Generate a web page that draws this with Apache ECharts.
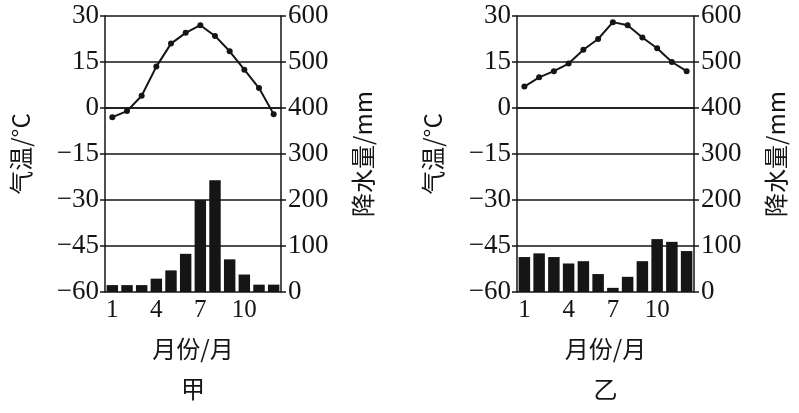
<!DOCTYPE html>
<html>
<head>
<meta charset="utf-8">
<script src="https://cdn.jsdelivr.net/npm/echarts@6/dist/echarts.min.js"></script>
<style>
html,body{margin:0;padding:0;background:#fff;}
#chart{width:799px;height:413px;}
</style>
</head>
<body>
<div id="chart"></div>
<script>
// Data
var months = ['1','2','3','4','5','6','7','8','9','10','11','12'];
var tempA = [-3, -1, 4, 13.5, 21, 24.5, 27, 23.5, 18.5, 12.5, 6.5, -2];
var precA = [15, 15, 15, 29, 47, 83, 200, 243, 71, 38, 16, 16];
var tempB = [7, 10, 12, 14.5, 19, 22.5, 28, 27, 23, 19.5, 15, 12];
var precB = [76, 84, 76, 62, 67, 39, 9, 33, 67, 115, 109, 89];
var tempTicks = {min: -60, max: 30, interval: 15};
var precTicks = {min: 0, max: 600, interval: 100};
var chartNames = ['甲', '乙'];
var xName = '月份/月', tName = '气温/°C', pName = '降水量/mm';

var INK = '#151515';
var FONT = "'Liberation Serif', 'Noto Sans CJK SC', serif";
var CJK = "'Noto Sans CJK SC', 'Liberation Serif', sans-serif";

function minus(v){ return String(v).replace('-', '\u2212'); }

var grids = [
  {left: 105, top: 16, width: 176, height: 276, outerBoundsMode: 'none', containLabel: false},
  {left: 517, top: 16, width: 177, height: 276, outerBoundsMode: 'none', containLabel: false}
];

var xAxes = [], yAxes = [], series = [];
[0,1].forEach(function(i){
  xAxes.push({
    type: 'category', gridIndex: i, data: months, boundaryGap: true,
    name: xName + '\n\n' + chartNames[i], nameLocation: 'middle', nameGap: 47,
    nameTextStyle: {fontFamily: CJK, fontSize: 24, color: INK, lineHeight: 20},
    axisLine: {lineStyle: {color: INK, width: 1.5}},
    axisTick: {show: false},
    axisLabel: {interval: 2, fontFamily: FONT, fontSize: 25, color: INK, margin: 6}
  });
  yAxes.push({
    type: 'value', gridIndex: i, position: 'left',
    min: tempTicks.min, max: tempTicks.max, interval: tempTicks.interval,
    name: tName, nameLocation: 'middle', nameRotate: 90, nameGap: 72,
    nameTextStyle: {fontFamily: CJK, fontSize: 24, color: INK},
    axisLine: {show: true, lineStyle: {color: INK, width: 1.5}},
    axisTick: {show: true, length: 5, lineStyle: {color: INK, width: 1.5}},
    axisLabel: {fontFamily: FONT, fontSize: 27, color: INK, margin: 6, formatter: minus},
    splitLine: {show: true, lineStyle: {color: INK, width: 1.5}}
  });
  yAxes.push({
    type: 'value', gridIndex: i, position: 'right',
    min: precTicks.min, max: precTicks.max, interval: precTicks.interval,
    name: pName, nameLocation: 'middle', nameRotate: 90, nameGap: 70,
    nameTextStyle: {fontFamily: CJK, fontSize: 24, color: INK},
    axisLine: {show: true, lineStyle: {color: INK, width: 1.5}},
    axisTick: {show: true, length: 5, lineStyle: {color: INK, width: 1.5}},
    axisLabel: {fontFamily: FONT, fontSize: 27, color: INK, margin: 7},
    splitLine: {show: false}
  });
});

series.push({type: 'bar', xAxisIndex: 0, yAxisIndex: 1, data: precA, barWidth: '78%', itemStyle: {color: INK}, z: 2});
series.push({type: 'line', xAxisIndex: 0, yAxisIndex: 0, data: tempA, symbol: 'circle', symbolSize: 6,
  lineStyle: {color: INK, width: 2}, itemStyle: {color: INK}, z: 3});
series.push({type: 'bar', xAxisIndex: 1, yAxisIndex: 3, data: precB, barWidth: '78%', itemStyle: {color: INK}, z: 2});
series.push({type: 'line', xAxisIndex: 1, yAxisIndex: 2, data: tempB, symbol: 'circle', symbolSize: 6,
  lineStyle: {color: INK, width: 2}, itemStyle: {color: INK}, z: 3});

var chart = echarts.init(document.getElementById('chart'), null, {renderer: 'canvas'});
chart.setOption({
  animation: false,
  backgroundColor: '#fff',
  grid: grids,
  xAxis: xAxes,
  yAxis: yAxes,
  series: series
});
</script>
</body>
</html>
